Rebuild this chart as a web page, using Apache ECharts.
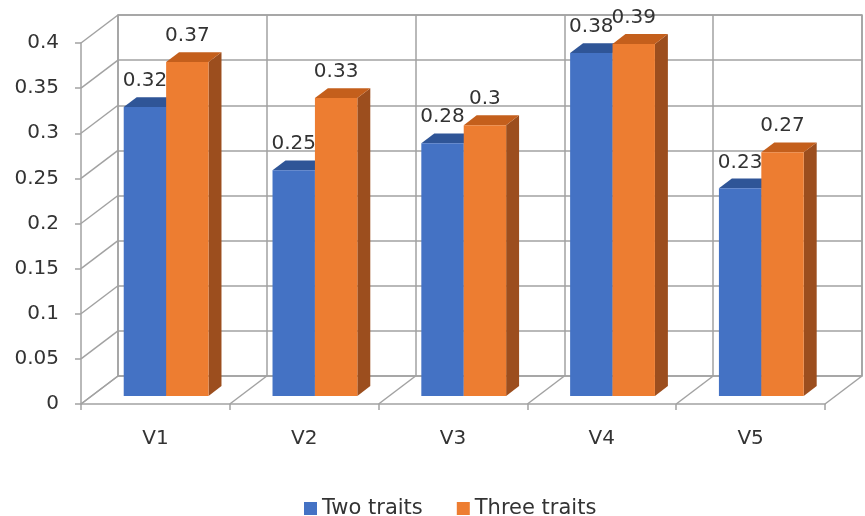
<!DOCTYPE html>
<html>
<head>
<meta charset="utf-8">
<script src="https://cdn.jsdelivr.net/npm/echarts@6/dist/echarts.min.js"></script>
<style>
  html, body { margin: 0; padding: 0; background: #ffffff; }
  #chart { width: 865px; height: 516px; }
</style>
</head>
<body>
<div id="chart"></div>
<script>
// Chart data
const categories = ['V1', 'V2', 'V3', 'V4', 'V5'];
const twoTraits = [0.32, 0.25, 0.28, 0.38, 0.23];
const threeTraits = [0.37, 0.33, 0.30, 0.39, 0.27];
const seriesNames = ['Two traits', 'Three traits'];
const yTicks = [0, 0.05, 0.1, 0.15, 0.2, 0.25, 0.3, 0.35, 0.4];

// Oblique projection used for the pseudo-3D look:
// one unit of depth moves a point by (DX, DY) pixels.
const DX = 37, DY = -28;
const BAR_FRONT = 0.29, BAR_BACK = 0.64;   // bar slab position in depth units
const BAR_SHARE = 0.285;                   // bar width as share of a category band

const LINE = '#A2A2A2';
const TEXT = '#333333';
const FONT = '"DejaVu Sans", Verdana, sans-serif';

const palette = [
  { front: '#4472C4', top: '#2F5597', side: '#2E4F8C' },
  { front: '#ED7D31', top: '#C45F1C', side: '#9C4E1E' }
];

function barRenderer(slot) {
  const c = palette[slot];
  return function (params, api) {
    const ci = api.value(0);
    const v = api.value(1);
    const base = api.coord([ci, 0]);
    const top = api.coord([ci, v]);
    const w = api.size([1, 0])[0] * BAR_SHARE;
    const x0 = base[0] + (slot === 0 ? -w : 0) + DX * BAR_FRONT;
    const x1 = x0 + w;
    const yb = base[1] + DY * BAR_FRONT;
    const yt = top[1] + DY * BAR_FRONT;
    const ddx = DX * (BAR_BACK - BAR_FRONT);
    const ddy = DY * (BAR_BACK - BAR_FRONT);
    return {
      type: 'group',
      children: [
        { type: 'polygon', shape: { points: [[x1, yt], [x1 + ddx, yt + ddy], [x1 + ddx, yb + ddy], [x1, yb]] },
          style: { fill: c.side } },
        { type: 'polygon', shape: { points: [[x0, yt], [x1, yt], [x1 + ddx, yt + ddy], [x0 + ddx, yt + ddy]] },
          style: { fill: c.top } },
        { type: 'rect', shape: { x: x0, y: yt, width: w, height: yb - yt },
          style: { fill: c.front } },
        { type: 'text',
          style: { text: String(v), x: (x0 + x1) / 2, y: yt - 26,
                   align: 'center', verticalAlign: 'middle',
                   textAlign: 'center', textVerticalAlign: 'middle',
                   fill: TEXT, font: '20px ' + FONT } }
      ]
    };
  };
}

// Side wall and floor edges that connect the front axes to the back wall
function frameRenderer(params, api) {
  const cs = params.coordSys;
  const children = [];
  yTicks.forEach(function (t) {
    const y = api.coord([0, t])[1];
    children.push({ type: 'line', shape: { x1: cs.x, y1: y, x2: cs.x + DX, y2: y + DY },
      style: { stroke: LINE, lineWidth: 1.5 } });
  });
  const band = api.size([1, 0])[0];
  const yFloor = cs.y + cs.height;
  for (let k = 0; k <= categories.length; k++) {
    const x = cs.x + k * band;
    children.push({ type: 'line', shape: { x1: x, y1: yFloor, x2: x + DX, y2: yFloor + DY },
      style: { stroke: LINE, lineWidth: 1.5 } });
  }
  return { type: 'group', children: children };
}

const chart = echarts.init(document.getElementById('chart'), null, { renderer: 'canvas' });

chart.setOption({
  animation: false,
  backgroundColor: '#ffffff',
  color: [palette[0].front, palette[1].front],
  textStyle: { fontFamily: FONT },
  grid: [
    // front plane (axes)
    { left: 81, right: 40, top: 43, bottom: 112, outerBoundsMode: 'none', containLabel: false },
    // back wall
    { left: 81 + DX, right: 40 - DX, top: 43 + DY, bottom: 112 - DY, outerBoundsMode: 'none', containLabel: false,
      show: true, borderColor: LINE, borderWidth: 1.5, backgroundColor: 'transparent' }
  ],
  legend: {
    data: seriesNames,
    left: 299,
    top: 493,
    icon: 'rect',
    itemWidth: 13,
    itemHeight: 13,
    itemGap: 34,
    textStyle: { fontSize: 21, color: TEXT, fontFamily: FONT }
  },
  xAxis: [
    { type: 'category', gridIndex: 0, data: categories,
      axisLine: { show: true, lineStyle: { color: LINE, width: 1.5 } },
      axisTick: { show: true, length: 6, lineStyle: { color: LINE, width: 1.5 } },
      axisLabel: { margin: 25, fontSize: 20, color: TEXT, fontFamily: FONT },
      splitLine: { show: false } },
    { type: 'category', gridIndex: 1, data: categories,
      axisLine: { show: false }, axisTick: { show: false }, axisLabel: { show: false },
      splitLine: { show: true, lineStyle: { color: LINE, width: 1.5 } } }
  ],
  yAxis: [
    { type: 'value', gridIndex: 0, min: 0, max: 0.4, interval: 0.05,
      axisLine: { show: true, lineStyle: { color: LINE, width: 1.5 } },
      axisTick: { show: true, length: 6, lineStyle: { color: LINE, width: 1.5 } },
      axisLabel: { margin: 22, fontSize: 20, color: TEXT, fontFamily: FONT },
      splitLine: { show: false } },
    { type: 'value', gridIndex: 1, min: 0, max: 0.4, interval: 0.05,
      axisLine: { show: false }, axisTick: { show: false }, axisLabel: { show: false },
      splitLine: { show: true, lineStyle: { color: LINE, width: 1.5 } } }
  ],
  series: [
    { type: 'custom', name: 'frame', xAxisIndex: 0, yAxisIndex: 0, silent: true, z: 1,
      renderItem: frameRenderer, data: [[0, 0]] },
    { type: 'custom', name: seriesNames[0], xAxisIndex: 0, yAxisIndex: 0, z: 3,
      itemStyle: { color: palette[0].front },
      renderItem: barRenderer(0), encode: { x: 0, y: 1 },
      data: twoTraits.map(function (v, i) { return [i, v]; }) },
    { type: 'custom', name: seriesNames[1], xAxisIndex: 0, yAxisIndex: 0, z: 4,
      itemStyle: { color: palette[1].front },
      renderItem: barRenderer(1), encode: { x: 0, y: 1 },
      data: threeTraits.map(function (v, i) { return [i, v]; }) }
  ]
});
</script>
</body>
</html>
